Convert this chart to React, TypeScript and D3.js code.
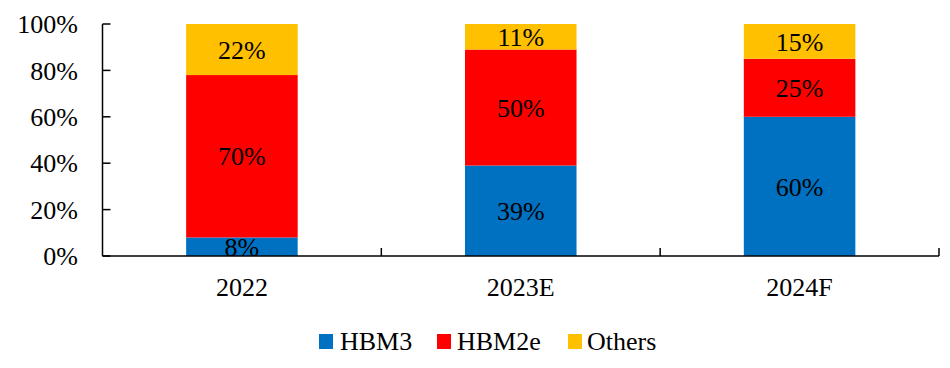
import React from "react";
import * as d3 from "d3";

const categories = ["2022", "2023E", "2024F"];
const seriesNames = ["HBM3", "HBM2e", "Others"];
const hbm3 = [8, 39, 60];
const hbm2e = [70, 50, 25];
const others = [22, 11, 15];
const colors = ["#0070C0", "#FF0000", "#FFC000"];
const yTicks = [0, 20, 40, 60, 80, 100];

const W = 950;
const H = 368;
const margin = { left: 102.5, right: 11, top: 24, bottom: 112 };
const FONT = "'Liberation Serif', 'Times New Roman', serif";

export default function App() {
  const x = d3
    .scaleBand<string>()
    .domain(categories)
    .range([margin.left, W - margin.right])
    .paddingInner(0.6)
    .paddingOuter(0.3);
  const band = d3.scaleBand<string>().domain(categories).range([margin.left, W - margin.right]);
  const y = d3.scaleLinear().domain([0, 100]).range([H - margin.bottom, margin.top]);

  const table = categories.map((c, i) => ({ cat: c, HBM3: hbm3[i], HBM2e: hbm2e[i], Others: others[i] }));
  const stacked = d3.stack<any>().keys(seriesNames)(table);

  const y0 = y(0);
  const boundaries = categories.map((c) => (band(c) as number) + band.bandwidth());

  return (
    <svg width={W} height={H} style={{ position: "absolute", left: 0, top: 0 }} fontFamily={FONT}>
      {stacked.map((s, si) => (
        <g key={s.key}>
          {s.map((d, i) => (
            <rect
              key={i}
              x={x(categories[i])}
              width={x.bandwidth()}
              y={y(d[1])}
              height={y(d[0]) - y(d[1])}
              fill={colors[si]}
            />
          ))}
        </g>
      ))}
      {stacked.map((s) =>
        s.map((d, i) => (
          <text
            key={s.key + i}
            x={(x(categories[i]) as number) + x.bandwidth() / 2}
            y={(y(d[0]) + y(d[1])) / 2}
            dy="0.35em"
            textAnchor="middle"
            fontSize={26}
            fill="#000"
          >
            {d[1] - d[0]}%
          </text>
        ))
      )}
      {/* y axis */}
      <line x1={margin.left} x2={margin.left} y1={y(100)} y2={y0} stroke="#000" strokeWidth={1.5} />
      {yTicks.map((t) => (
        <g key={t}>
          <line x1={margin.left} x2={margin.left + 8} y1={y(t)} y2={y(t)} stroke="#000" strokeWidth={1.5} />
          <text x={78} y={y(t)} dy="0.35em" textAnchor="end" fontSize={26} fill="#000">
            {t}%
          </text>
        </g>
      ))}
      {/* x axis */}
      <line x1={margin.left} x2={W - margin.right} y1={y0} y2={y0} stroke="#000" strokeWidth={1.5} />
      {boundaries.map((b, i) => (
        <line key={i} x1={b} x2={b} y1={y0} y2={y0 - 8} stroke="#000" strokeWidth={1.5} />
      ))}
      {categories.map((c) => (
        <text
          key={c}
          x={(x(c) as number) + x.bandwidth() / 2}
          y={296}
          textAnchor="middle"
          fontSize={26}
          fill="#000"
        >
          {c}
        </text>
      ))}
      {/* legend */}
      {[
        { name: seriesNames[0], sx: 319, tx: 340 },
        { name: seriesNames[1], sx: 437, tx: 457 },
        { name: seriesNames[2], sx: 568, tx: 587 },
      ].map((l, i) => (
        <g key={l.name}>
          <rect x={l.sx} y={334} width={14} height={15} fill={colors[i]} />
          <text x={l.tx} y={349.5} fontSize={26} fill="#000">
            {l.name}
          </text>
        </g>
      ))}
    </svg>
  );
}
